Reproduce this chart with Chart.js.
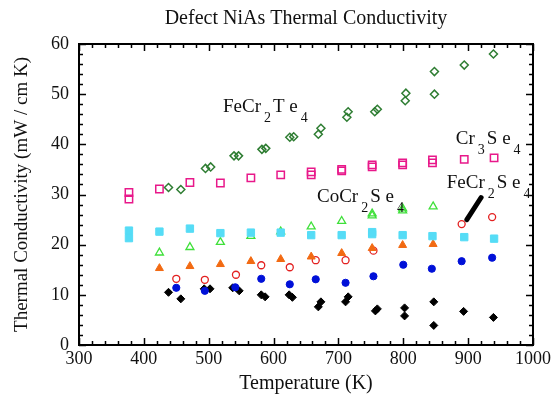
<!DOCTYPE html>
<html>
<head>
<meta charset="utf-8">
<script src="https://cdn.jsdelivr.net/npm/chart.js@4/dist/chart.umd.min.js"></script>
<style>
  html, body { margin: 0; padding: 0; background: #fff; }
</style>
</head>
<body>
<canvas id="thermalChart" width="557" height="396"></canvas>
<script>
// FeCr2Te4 (open green diamonds)
const feCr2Te4T = [438, 457, 495, 503, 539, 546, 582, 588, 625, 631, 669, 673, 713, 715, 756, 760, 803, 804, 848, 848, 894, 939];
const feCr2Te4K = [31.4, 31.0, 35.2, 35.5, 37.7, 37.7, 39.0, 39.2, 41.4, 41.5, 42.0, 43.2, 45.4, 46.5, 46.5, 47.0, 48.7, 50.2, 50.0, 54.5, 55.8, 58.0];

// Cr3Se4 (open pink squares)
const cr3Se4T = [377, 377, 424, 471, 518, 565, 611, 658, 658, 705, 705, 752, 752, 799, 799, 845, 845, 894, 940];
const cr3Se4K = [30.4, 29.1, 31.1, 32.4, 32.3, 33.3, 33.9, 34.5, 33.9, 34.7, 35.0, 35.9, 35.5, 36.3, 35.9, 36.9, 36.3, 37.0, 37.3];

// unlabelled series (filled cyan squares)
const cyanT = [377, 377, 424, 471, 518, 565, 611, 658, 705, 752, 752, 799, 845, 894, 940];
const cyanK = [22.8, 21.3, 22.6, 23.2, 22.3, 22.4, 22.4, 21.9, 21.9, 22.5, 22.1, 21.9, 21.7, 21.5, 21.2];

// CoCr2Se4 (open green triangles)
const coCr2Se4T = [424, 471, 518, 565, 611, 658, 705, 752, 752, 799, 799, 846];
const coCr2Se4K = [18.4, 19.5, 20.5, 21.7, 22.6, 23.6, 24.7, 26.2, 25.8, 27.2, 26.8, 27.6];

// filled orange triangles
const orangeT = [424, 471, 518, 565, 611, 658, 705, 752, 799, 846];
const orangeK = [15.3, 15.7, 16.1, 16.7, 17.1, 17.6, 18.3, 19.3, 19.9, 20.1];

// FeCr2Se4 (open red circles)
const feCr2Se4T = [450, 494, 542, 581, 625, 665, 711, 754, 890, 937];
const feCr2Se4K = [13.2, 13.0, 14.0, 15.9, 15.5, 16.9, 16.9, 18.8, 24.1, 25.5];

// filled blue circles
const blueT = [450, 494, 541, 581, 625, 665, 711, 754, 800, 844, 890, 937];
const blueK = [11.4, 10.8, 11.5, 13.2, 12.1, 13.1, 12.4, 13.7, 16.0, 15.2, 16.7, 17.4];

// filled black diamonds
const blackT = [438, 457, 493, 502, 537, 547, 581, 587, 624, 629, 669, 673, 711, 715, 757, 760, 802, 802, 847, 847, 893, 939];
const blackK = [10.5, 9.2, 11.2, 11.2, 11.4, 10.8, 10.0, 9.6, 10.0, 9.5, 7.6, 8.6, 8.6, 9.6, 6.8, 7.2, 7.4, 5.8, 8.6, 3.9, 6.7, 5.5];

const xTicks = [300, 400, 500, 600, 700, 800, 900, 1000];
const yTicks = [0, 10, 20, 30, 40, 50, 60];

// label pieces: [text, isSubscript]
const labelFeCr2Te4 = [['FeCr', false], ['2', true], ['T e', false], ['4', true]];
const labelCr3Se4 = [['Cr', false], ['3', true], ['S e', false], ['4', true]];
const labelCoCr2Se4 = [['CoCr', false], ['2', true], ['S e', false], ['4', true]];
const labelFeCr2Se4 = [['FeCr', false], ['2', true], ['S e', false], ['4', true]];

const pairs = (xs, ys) => xs.map((v, i) => ({ x: v, y: ys[i] }));
const serif = '"Liberation Serif", "DejaVu Serif", serif';

function drawLabel(ctx, x, y, pieces) {
    let cx = x;
    pieces.forEach(([t, sub]) => {
        if (sub) {
            ctx.font = '14px ' + serif;
            cx += 3;
            ctx.fillText(t, cx, y + 10);
            cx += ctx.measureText(t).width + 2;
        } else {
            ctx.font = '19px ' + serif;
            ctx.fillText(t, cx, y);
            cx += ctx.measureText(t).width;
        }
    });
}

const framePlugin = {
    id: 'framePlugin',
    afterDatasetsDraw(chart) {
        const { ctx, chartArea: a, scales: { x, y } } = chart;
        ctx.save();
        ctx.strokeStyle = '#000';
        ctx.lineWidth = 1.5;
        ctx.beginPath();
        for (let t = 300; t <= 1000; t += 20) {
            const px = Math.round(x.getPixelForValue(t)) + 0.5;
            const len = t % 100 === 0 ? 7 : 4;
            ctx.moveTo(px, a.bottom); ctx.lineTo(px, a.bottom - len);
            ctx.moveTo(px, a.top); ctx.lineTo(px, a.top + len);
        }
        for (let k = 0; k <= 60; k += 2) {
            const py = Math.round(y.getPixelForValue(k)) + 0.5;
            const len = k % 10 === 0 ? 7 : 4;
            ctx.moveTo(a.left, py); ctx.lineTo(a.left + len, py);
            ctx.moveTo(a.right, py); ctx.lineTo(a.right - len, py);
        }
        ctx.stroke();
        ctx.lineWidth = 2;
        ctx.strokeRect(a.left, a.top, a.right - a.left, a.bottom - a.top);

        // title
        ctx.fillStyle = '#111';
        ctx.font = '20px ' + serif;
        ctx.textAlign = 'center';
        ctx.textBaseline = 'middle';
        ctx.fillText('Defect NiAs Thermal Conductivity', (a.left + a.right) / 2, 19);

        // compound labels
        ctx.textAlign = 'left';
        ctx.textBaseline = 'alphabetic';
        drawLabel(ctx, x.getPixelForValue(522), y.getPixelForValue(46.4), labelFeCr2Te4);
        drawLabel(ctx, x.getPixelForValue(881), y.getPixelForValue(40.1), labelCr3Se4);
        drawLabel(ctx, x.getPixelForValue(667), y.getPixelForValue(28.6), labelCoCr2Se4);
        drawLabel(ctx, x.getPixelForValue(867), y.getPixelForValue(31.3), labelFeCr2Se4);

        // pointer line
        ctx.strokeStyle = '#000';
        ctx.lineWidth = 5;
        ctx.lineCap = 'round';
        ctx.beginPath();
        ctx.moveTo(x.getPixelForValue(898), y.getPixelForValue(25.0));
        ctx.lineTo(x.getPixelForValue(920), y.getPixelForValue(29.4));
        ctx.stroke();
        ctx.restore();
    }
};

const ctx = document.getElementById('thermalChart').getContext('2d');
new Chart(ctx, {
    type: 'scatter',
    data: {
        datasets: [
            {
                label: 'FeCr2Te4',
                data: pairs(feCr2Te4T, feCr2Te4K),
                pointStyle: 'rectRot',
                pointRadius: 4,
                borderColor: '#2e7d32',
                backgroundColor: 'rgba(0,0,0,0)',
                borderWidth: 1.5,
            },
            {
                label: 'Cr3Se4',
                data: pairs(cr3Se4T, cr3Se4K),
                pointStyle: 'rect',
                pointRadius: 5.2,
                borderColor: '#e8188a',
                backgroundColor: 'rgba(0,0,0,0)',
                borderWidth: 1.5,
            },
            {
                label: 'cyan',
                data: pairs(cyanT, cyanK),
                pointStyle: 'rect',
                pointRadius: 5.2,
                borderColor: '#55dcf6',
                backgroundColor: '#55dcf6',
                borderWidth: 1,
            },
            {
                label: 'CoCr2Se4',
                data: pairs(coCr2Se4T, coCr2Se4K),
                pointStyle: 'triangle',
                pointRadius: 4.6,
                borderColor: '#3fe03a',
                backgroundColor: 'rgba(0,0,0,0)',
                borderWidth: 1.3,
            },
            {
                label: 'orange',
                data: pairs(orangeT, orangeK),
                pointStyle: 'triangle',
                pointRadius: 4.6,
                borderColor: '#f26a12',
                backgroundColor: '#f26a12',
                borderWidth: 1,
            },
            {
                label: 'FeCr2Se4',
                data: pairs(feCr2Se4T, feCr2Se4K),
                pointStyle: 'circle',
                pointRadius: 3.5,
                borderColor: '#e32020',
                backgroundColor: 'rgba(0,0,0,0)',
                borderWidth: 1.3,
            },
            {
                label: 'blue',
                data: pairs(blueT, blueK),
                pointStyle: 'circle',
                pointRadius: 3.6,
                borderColor: '#0010d8',
                backgroundColor: '#0010d8',
                borderWidth: 1,
            },
            {
                label: 'black',
                data: pairs(blackT, blackK),
                pointStyle: 'rectRot',
                pointRadius: 4,
                borderColor: '#000',
                backgroundColor: '#000',
                borderWidth: 1,
            }
        ],
    },
    options: {
        responsive: false,
        animation: false,
        devicePixelRatio: 1,
        layout: { padding: { top: 44, right: 24, left: 0, bottom: 0 } },
        plugins: {
            legend: { display: false },
            tooltip: { enabled: false },
        },
        scales: {
            x: {
                type: 'linear',
                min: 300,
                max: 1000,
                afterFit: s => { s.height = 51; },
                afterBuildTicks: s => { s.ticks = xTicks.map(v => ({ value: v })); },
                grid: { display: false, drawTicks: false },
                border: { display: false },
                ticks: { color: '#111', font: { family: serif, size: 18 }, padding: 3, maxRotation: 0, callback: v => String(v) },
                title: { display: true, text: 'Temperature (K)', color: '#111', font: { family: serif, size: 20 }, padding: { top: 0, bottom: 0 } },
            },
            y: {
                type: 'linear',
                min: 0,
                max: 60,
                afterFit: s => { s.width = 79; },
                afterBuildTicks: s => { s.ticks = yTicks.map(v => ({ value: v })); },
                grid: { display: false, drawTicks: false },
                border: { display: false },
                ticks: { color: '#111', font: { family: serif, size: 18 }, padding: 10, callback: v => String(v) },
                title: { display: true, text: 'Thermal Conductivity (mW / cm K)', color: '#111', font: { family: serif, size: 19 }, padding: { top: 11, bottom: 0 } },
            }
        },
    },
    plugins: [framePlugin],
});
</script>
</body>
</html>
